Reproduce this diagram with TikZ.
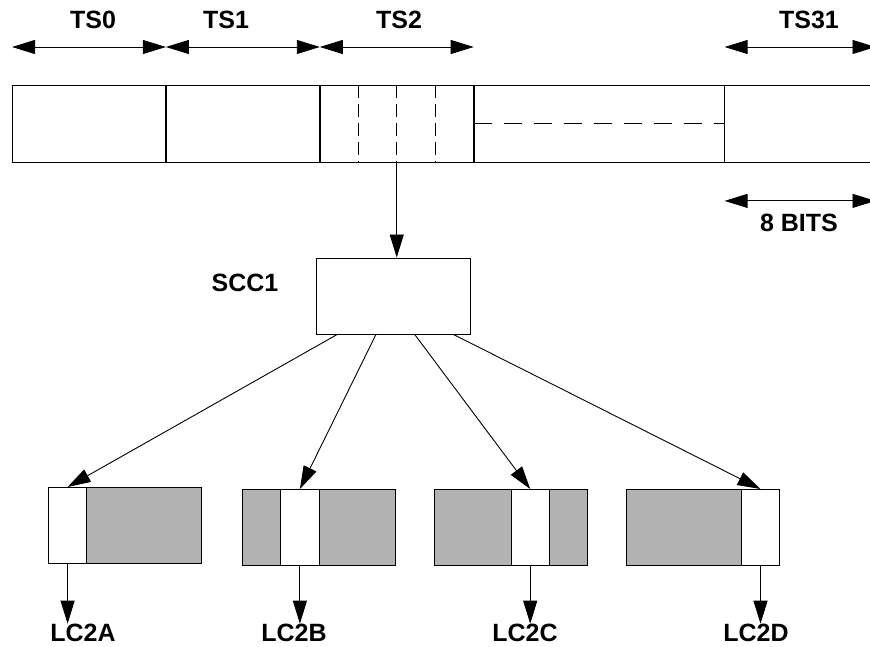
\documentclass[tikz,border=0pt]{standalone}
\usepackage{fontspec}
\setmainfont{Liberation Sans}
\usepackage{tikz}
\usetikzlibrary{arrows.meta,calc,positioning}
\definecolor{SlotGray}{HTML}{B3B3B3}

\begin{document}
\begin{tikzpicture}[x=1pt, y=-1pt, >={Triangle[length=23pt,width=14pt]}, line width=0.9pt,
    lbl/.style={font=\fontsize{25}{28}\selectfont\bfseries, inner sep=0pt},
    slot/.style={draw, anchor=north west, minimum width=153pt, minimum height=77pt, inner sep=0pt},
    lcbox/.style={draw, fill=SlotGray, anchor=north west, minimum width=153pt, minimum height=76pt, inner sep=0pt},
    chan/.style={draw, fill=white, anchor=north west, minimum width=38.3pt, minimum height=76pt, inner sep=0pt},
    subdiv/.style={dash pattern=on 13pt off 6pt},
    gapline/.style={dash pattern=on 18pt off 12pt}]
    \useasboundingbox (0,0) rectangle (870,647);

    % Frame of time slots
    \node[slot] (ts0) at (12,85) {};
    \node[slot] (ts1) at (ts0.north east) {};
    \node[slot] (ts2) at (ts1.north east) {};
    \node[slot, minimum width=250pt] (mid) at (ts2.north east) {};
    \node[slot, draw=none, minimum width=150pt] (ts31) at (mid.north east) {};
    \draw (ts31.north west) -- (ts31.north east) (ts31.south west) -- (ts31.south east);
    \foreach \k in {1,2,3}
        \draw[subdiv] ($(ts2.north west)!{0.25*\k}!(ts2.north east)$) -- ($(ts2.south west)!{0.25*\k}!(ts2.south east)$);
    \draw[gapline] (mid.west) -- (mid.east);

    % Slot widths
    \node[lbl] (l0) at (93,20) {TS0};
    \node[lbl] (l1) at (226,20) {TS1};
    \node[lbl] (l2) at (399,20) {TS2};
    \node[lbl] (l31) at (809,20) {TS31};
    \foreach \s in {ts0,ts1,ts2,ts31}
        \draw[<->] ([yshift=38pt]\s.north west) -- ([yshift=38pt]\s.north east);
    \draw[<->] ([yshift=-38pt]ts31.south west) -- ([yshift=-38pt]ts31.south east);
    \node[lbl] (bits) at (799,223) {8 BITS};

    % SCC
    \node[draw, minimum width=154pt, minimum height=76pt, inner sep=0pt] (scc) at (393,296) {};
    \node[lbl] (scclbl) at (245,283) {SCC1};
    \draw[->] (ts2.south) -- (ts2.south |- scc.north);

    % Logical channels
    \foreach \n/\bx/\by/\k in {A/48/487/0, B/242/489/1, C/434/489/2, D/626/489/3} {
        \node[lcbox] (lc\n) at (\bx,\by) {};
        \node[chan] (ch\n) at ({\bx+38.3*\k},\by) {};
        \draw[->] ($(scc.south west)!{0.14+0.25*\k}!(scc.south east)$) -- (ch\n.north);
    }
    \foreach \n/\lx in {A/83, B/294, C/525, D/756} {
        \node[lbl] (lb\n) at (\lx,633) {LC2\n};
        \draw[->] (ch\n.south) -- (ch\n.south |- lb\n.north);
    }
\end{tikzpicture}
\end{document}
